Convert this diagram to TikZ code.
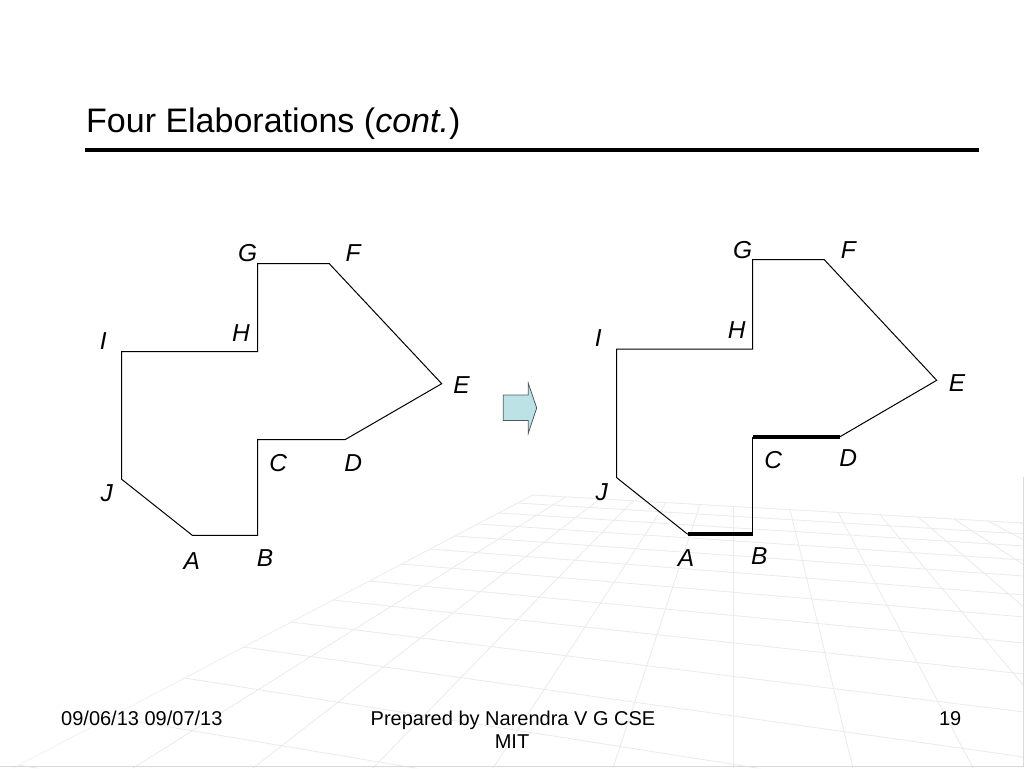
\documentclass[tikz,border=0pt]{standalone}
\usepackage{fontspec}
\setmainfont{Liberation Sans}
\definecolor{arrowfill}{RGB}{188,226,229}
\definecolor{arrowline}{RGB}{80,90,92}
\begin{document}
\begin{tikzpicture}[x=1pt,y=-1pt,
  gridln/.style={draw=black!8,line width=0.8pt},
  border/.style={draw=black!15,line width=0.8pt},
  edge/.style={draw=black,line width=1pt,line join=miter},
  thickedge/.style={draw=black,line width=4pt},
  lbl/.style={font=\fontsize{24.5}{24.5}\selectfont\itshape,inner sep=0pt},
  foot/.style={font=\fontsize{20}{23}\selectfont,inner sep=0pt}]
\useasboundingbox (0,0) rectangle (1024,768);
\fill[white] (0,0) rectangle (1024,768);
% background perspective grid
\begin{scope}
\clip (533,494.5) -- (1024,522.5) -- (1024,768) -- (13,768) -- cycle;
\foreach \yl/\yr in {495/523,503/534,513/546,524/560,536/576,549/595,564/617,581/643,600/674,622/712,647/757,678/810,717/870,765/940}
  \draw[gridln] ({533-(\yl-495)*1.905},\yl) -- (1024,\yr);
\foreach \tx/\bx in {533/13,566/133,600/253,633/373,666/493,700/613,733/733,790/853,838/973,880/1093,918/1213,954/1333,988/1453,1020/1573}
  \draw[gridln] (\tx,{495+(\tx-533)*0.057}) -- (\bx,768);
\end{scope}
\coordinate (bd1) at (1023,477);
\coordinate (bd2) at (1023,766.5);
\coordinate (bd3) at (0,766.5);
\draw[border] (bd1) -- (bd2) -- (bd3);
% title
\node[anchor=base west,inner sep=0pt,font=\fontsize{34}{40}\selectfont] (title) at (86,132) {Four Elaborations (\textit{cont.})};
\coordinate (r1) at (85,150);
\coordinate (r2) at (979,150);
\draw[line width=4pt] (r1) -- (r2);
% left polygon
\coordinate (lA) at (192.3,535.3);
\coordinate (lB) at (257.7,535.3);
\coordinate (lC) at (257.7,439.7);
\coordinate (lD) at (345,439.7);
\coordinate (lE) at (441.7,383.7);
\coordinate (lF) at (329.3,263.7);
\coordinate (lG) at (257.7,263.7);
\coordinate (lH) at (257.7,351.7);
\coordinate (lI) at (121.7,351.7);
\coordinate (lJ) at (121.7,479.3);
\draw[edge] (lA) -- (lB) -- (lC) -- (lD) -- (lE) -- (lF) -- (lG) -- (lH) -- (lI) -- (lJ) -- cycle;
\node[lbl] (tlG) at (247.7,252.7) {G};
\node[lbl] (tlF) at (353,252.7) {F};
\node[lbl] (tlH) at (241,333.3) {H};
\node[lbl] (tlI) at (103.3,341) {I};
\node[lbl] (tlE) at (461.5,385.5) {E};
\node[lbl] (tlC) at (278.3,463.3) {C};
\node[lbl] (tlD) at (353.3,463.3) {D};
\node[lbl] (tlJ) at (106.7,493.3) {J};
\node[lbl] (tlA) at (191.7,560.7) {A};
\node[lbl] (tlB) at (265,558.3) {B};
% arrow
\draw[fill=arrowfill,draw=arrowline,line width=0.8pt]
  (503.3,395) -- (528.3,395) -- (528.3,383.3) -- (536.7,408) -- (528.3,433.3) -- (528.3,420.5) -- (503.3,420.5) -- cycle;
% right polygon
\coordinate (rA) at (687.7,534.3);
\coordinate (rB) at (752.7,534.3);
\coordinate (rC) at (752.7,436.7);
\coordinate (rD) at (840,436.7);
\coordinate (rE) at (936.7,380.3);
\coordinate (rF) at (824.3,259.7);
\coordinate (rG) at (752.7,259.7);
\coordinate (rH) at (752.7,349);
\coordinate (rI) at (616.7,349);
\coordinate (rJ) at (616.7,477.7);
\draw[edge] (rB) -- (rC);
\draw[edge] (rD) -- (rE) -- (rF) -- (rG) -- (rH) -- (rI) -- (rJ) -- (rA);
\draw[thickedge] (rA) -- (rB);
\draw[thickedge] (rC) -- (rD);
\node[lbl] (trG) at (742.7,250) {G};
\node[lbl] (trF) at (848.3,250) {F};
\node[lbl] (trH) at (736.7,330) {H};
\node[lbl] (trI) at (598.3,338.3) {I};
\node[lbl] (trE) at (957,383.5) {E};
\node[lbl] (trC) at (773.3,460) {C};
\node[lbl] (trD) at (848.3,458.3) {D};
\node[lbl] (trJ) at (601.7,491.7) {J};
\node[lbl] (trA) at (686,558.3) {A};
\node[lbl] (trB) at (759.3,556) {B};
% footer
\node[foot,anchor=base west] (fdate) at (61,725) {09/06/13 09/07/13};
\node[foot,anchor=base] (fprep) at (513,725) {Prepared by Narendra V G CSE};
\node[foot,anchor=base] (fmit) at (512,748) {MIT};
\node[foot,anchor=base east] (fnum) at (961.5,725) {19};
\end{tikzpicture}
\end{document}
